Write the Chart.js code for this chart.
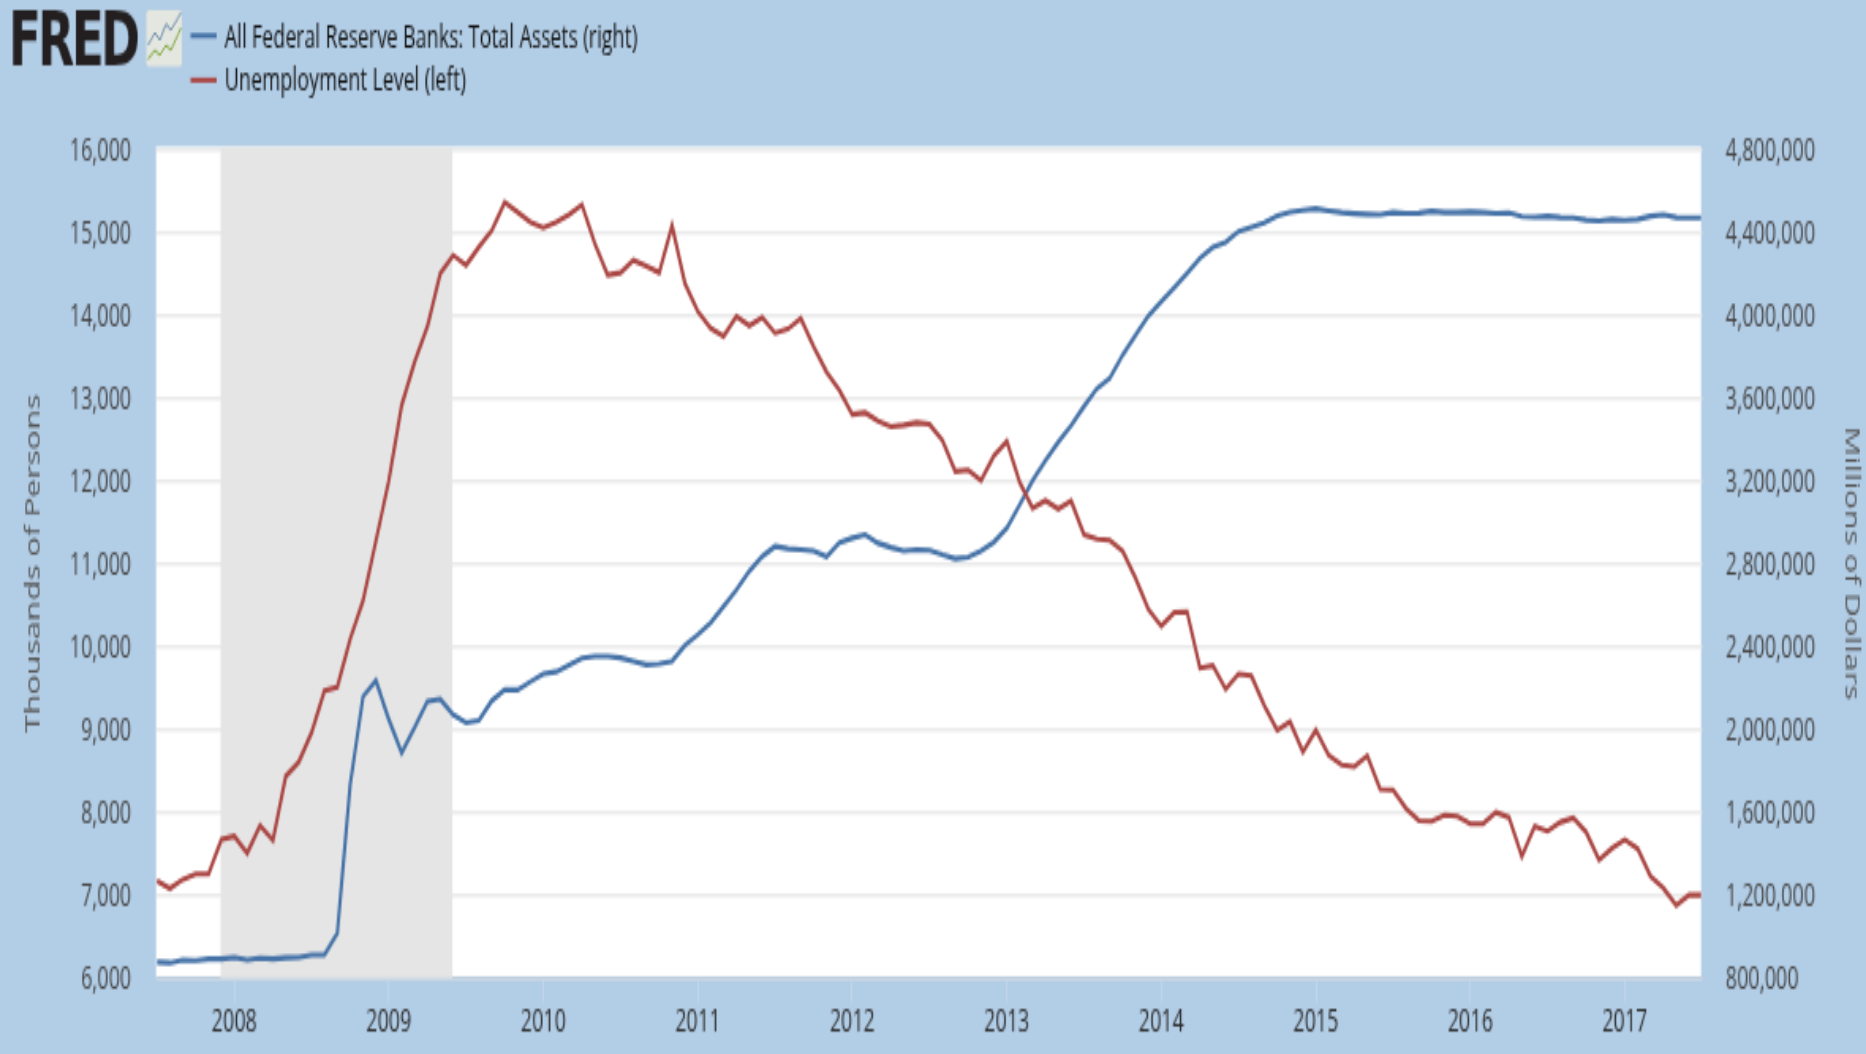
<!DOCTYPE html>
<html><head><meta charset="utf-8">
<script src="https://cdn.jsdelivr.net/npm/chart.js@4"></script>
<style>
html,body{margin:0;padding:0;background:#b2cde6;overflow:hidden;width:1866px;height:1054px}
#stage{position:absolute;left:0;top:0;width:1180px;height:420px;transform-origin:0 0;transform:scale(1.58136,2.50952)}
canvas{display:block}
</style></head><body>
<div id="stage"><canvas id="c" width="1180" height="420"></canvas></div>
<script>
const months = [
"2007-07","2007-08","2007-09","2007-10","2007-11","2007-12",
"2008-01","2008-02","2008-03","2008-04","2008-05","2008-06","2008-07","2008-08","2008-09","2008-10","2008-11","2008-12",
"2009-01","2009-02","2009-03","2009-04","2009-05","2009-06","2009-07","2009-08","2009-09","2009-10","2009-11","2009-12",
"2010-01","2010-02","2010-03","2010-04","2010-05","2010-06","2010-07","2010-08","2010-09","2010-10","2010-11","2010-12",
"2011-01","2011-02","2011-03","2011-04","2011-05","2011-06","2011-07","2011-08","2011-09","2011-10","2011-11","2011-12",
"2012-01","2012-02","2012-03","2012-04","2012-05","2012-06","2012-07","2012-08","2012-09","2012-10","2012-11","2012-12",
"2013-01","2013-02","2013-03","2013-04","2013-05","2013-06","2013-07","2013-08","2013-09","2013-10","2013-11","2013-12",
"2014-01","2014-02","2014-03","2014-04","2014-05","2014-06","2014-07","2014-08","2014-09","2014-10","2014-11","2014-12",
"2015-01","2015-02","2015-03","2015-04","2015-05","2015-06","2015-07","2015-08","2015-09","2015-10","2015-11","2015-12",
"2016-01","2016-02","2016-03","2016-04","2016-05","2016-06","2016-07","2016-08","2016-09","2016-10","2016-11","2016-12",
"2017-01","2017-02","2017-03","2017-04","2017-05","2017-06","2017-07"];
const totalAssets = [
876000,873000,887000,885000,892000,892000,
900000,887000,897000,892000,898000,900000,912000,912000,1016000,1734000,2159000,2235000,
2048000,1887000,2008000,2135000,2146000,2070000,2032000,2044000,2138000,2190000,2190000,2230000,
2267000,2278000,2311000,2343000,2352000,2352000,2345000,2329000,2312000,2316000,2329000,2405000,
2456000,2515000,2594000,2674000,2764000,2834000,2883000,2872000,2867000,2862000,2834000,2902000,
2923000,2940000,2899000,2878000,2862000,2868000,2865000,2842000,2823000,2831000,2862000,2904000,
2972000,3083000,3200000,3297000,3386000,3467000,3559000,3645000,3694000,3807000,3904000,3996000,
4064000,4132000,4202000,4274000,4326000,4352000,4403000,4424000,4444000,4479000,4497000,4505000,
4513000,4503000,4494000,4489000,4486000,4484000,4495000,4490000,4492000,4500000,4494000,4494000,
4497000,4495000,4490000,4492000,4474000,4472000,4476000,4470000,4468000,4458000,4453000,4461000,
4456000,4461000,4476000,4483000,4470000,4468000,4468000];
const unemployment = [
7170,7080,7190,7255,7255,7675,
7710,7505,7840,7660,8435,8605,8960,9465,9510,10090,10555,11275,
12000,12910,13430,13860,14500,14720,14600,14820,15020,15360,15240,15120,
15050,15120,15210,15330,14860,14480,14510,14660,14590,14510,15080,14380,
14040,13840,13740,13980,13870,13970,13780,13830,13960,13615,13310,13090,
12800,12820,12720,12650,12670,12700,12680,12485,12110,12130,12000,12300,
12475,11980,11670,11760,11660,11755,11350,11295,11280,11150,10825,10445,
10245,10410,10420,9740,9770,9485,9670,9645,9285,8990,9090,8727,
8990,8690,8570,8550,8680,8275,8267,8045,7900,7890,7965,7950,
7860,7865,8000,7940,7465,7830,7770,7880,7930,7760,7425,7565,
7670,7560,7225,7085,6875,7000,7000];
const leftTicks = [6000,7000,8000,9000,10000,11000,12000,13000,14000,15000,16000];
const rightTicks = [800000,1200000,1600000,2000000,2400000,2800000,3200000,3600000,4000000,4400000,4800000];
const yearTicks = ["2008-01","2009-01","2010-01","2011-01","2012-01","2013-01","2014-01","2015-01","2016-01","2017-01"];
const recession = ["2007-12","2009-06"];
const seriesNames = ["All Federal Reserve Banks: Total Assets (right)","Unemployment Level (left)"];
const axisTitles = ["Thousands of Persons","Millions of Dollars"];
const BLUE="#4572a7", RED="#aa4643";

const chromePlugin = {
  id:'chrome',
  beforeDraw(chart){
    const {ctx,chartArea:a}=chart;
    ctx.save();
    ctx.fillStyle='#b2cde6';ctx.fillRect(0,0,chart.width,chart.height);
    ctx.fillStyle='#ffffff';ctx.fillRect(a.left-0.6,a.top-1,a.right-a.left,a.bottom-a.top+1);
    ctx.restore();
  },
  beforeDatasetsDraw(chart){
    const {ctx,chartArea:a,scales}=chart;
    const x0=scales.x.getPixelForValue(months.indexOf(recession[0]));
    const x1=scales.x.getPixelForValue(months.indexOf(recession[1]));
    ctx.save();
    ctx.fillStyle='#e5e5e5';
    ctx.fillRect(x0-0.5,a.top-0.8,x1-x0,a.bottom-a.top+0.8);
    ctx.restore();
  },
  afterDraw(chart){
    const {ctx}=chart;
    ctx.save();
    // logo
    ctx.fillStyle='#231f20';
    ctx.font='bold 30px "DejaVu Sans"';
    ctx.textBaseline='alphabetic';ctx.textAlign='left';
    ctx.letterSpacing='-2px';
    ctx.fillText('FRED',5.6,26);
    ctx.letterSpacing='0px';
    // logo icon
    ctx.fillStyle='#e4e6e0';
    ctx.beginPath();ctx.roundRect(92.5,4,22.5,22.4,1.5);ctx.fill();
    ctx.lineWidth=1;ctx.strokeStyle='#7092ad';
    ctx.beginPath();ctx.moveTo(93.5,18);ctx.lineTo(98,13);ctx.lineTo(101,16);ctx.lineTo(105,9.5);ctx.lineTo(108,12);ctx.lineTo(114.5,5);ctx.stroke();
    ctx.strokeStyle='#83ad45';
    ctx.beginPath();ctx.moveTo(93.5,23.5);ctx.lineTo(98,20);ctx.lineTo(101,22);ctx.lineTo(105,18);ctx.lineTo(108,20);ctx.lineTo(114.5,11);ctx.stroke();
    // legend
    const ys=[14.2,31.9];
    const yt=[15.1,32.9];
    const cols=chart.data.datasets.map(d=>d.borderColor);
    ctx.font='12.45px "Open Sans"';
    ctx.textBaseline='middle';
    seriesNames.forEach((n,i)=>{
      ctx.strokeStyle=cols[i];ctx.lineWidth=2;
      ctx.beginPath();ctx.moveTo(120.5,ys[i]);ctx.lineTo(137,ys[i]);ctx.stroke();
      ctx.fillStyle='#111111';
      ctx.fillText(n,142,yt[i]);
    });
    ctx.restore();
  }
};

function fixWidth(w){return s=>{s.width=w;};}
new Chart(document.getElementById('c'),{
  type:'line',
  plugins:[chromePlugin],
  data:{labels:months,datasets:[
    {label:seriesNames[0],data:totalAssets,yAxisID:'yR',borderColor:BLUE,backgroundColor:BLUE,borderWidth:2.1,pointRadius:0,tension:0,order:2,clip:{left:1,right:-0.6,top:2,bottom:0}},
    {label:seriesNames[1],data:unemployment,yAxisID:'yL',borderColor:RED,backgroundColor:RED,borderWidth:2.1,pointRadius:0,tension:0,order:1,clip:{left:1,right:-0.6,top:2,bottom:0}}
  ]},
  options:{
    responsive:false,animation:false,devicePixelRatio:1,
    layout:{padding:{top:59.4,left:0,right:0,bottom:0}},
    plugins:{legend:{display:false},title:{display:false},tooltip:{enabled:false}},
    scales:{
      x:{type:'category',offset:false,
        afterBuildTicks:s=>{s.ticks=yearTicks.map(t=>({value:months.indexOf(t)}));},
        afterFit:s=>{s.height=30.3;},
        grid:{drawOnChartArea:false,drawTicks:true,tickLength:10,tickColor:'#c0d6ea',tickWidth:1},
        border:{display:true,color:'#c0d0e0',width:1.4},
        ticks:{autoSkip:false,maxRotation:0,minRotation:0,padding:0,color:'#2b2b2b',font:{family:'"Open Sans"',size:12.5},
          callback(v){return months[v].slice(0,4);}}
      },
      yL:{type:'linear',position:'left',min:6000,max:16000,
        afterBuildTicks:s=>{s.ticks=leftTicks.map(v=>({value:v}));},
        afterFit:fixWidth(99.3),
        grid:{color:'#ebebeb',lineWidth:1.6,drawTicks:false},
        border:{display:false},
        ticks:{padding:16.3,labelOffset:0.6,color:'#444444',font:{family:'"Open Sans"',size:12.5},callback:v=>v.toLocaleString('en-US')},
        title:{display:true,text:axisTitles[0],color:'#555555',font:{family:'"Open Sans"',size:13.1},padding:{top:13,bottom:0}}
      },
      yR:{type:'linear',position:'right',min:800000,max:4800000,
        afterBuildTicks:s=>{s.ticks=rightTicks.map(v=>({value:v}));},
        afterFit:fixWidth(103.7),
        grid:{drawOnChartArea:false,drawTicks:false},
        border:{display:false},
        ticks:{padding:15,labelOffset:0.6,color:'#444444',font:{family:'"Open Sans"',size:12.5},callback:v=>v.toLocaleString('en-US')},
        title:{display:true,text:axisTitles[1],color:'#555555',font:{family:'"Open Sans"',size:13.1},padding:{top:1,bottom:0}}
      }
    }
  }
});
</script>
</body></html>
